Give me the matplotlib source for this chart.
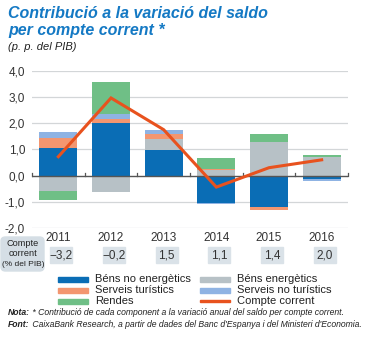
import numpy as np
import matplotlib
matplotlib.use("Agg")
import matplotlib.pyplot as plt
from matplotlib.patches import FancyBboxPatch, Rectangle
from matplotlib.text import Annotation

plt.rcParams['font.family'] = ['Liberation Sans', 'DejaVu Sans']

# Data
years = ['2011', '2012', '2013', '2014', '2015', '2016']
bens_no_energetics = [1.05, 2.0, 0.97, -1.05, -1.2, -0.14]
bens_energetics = [-0.57, -0.63, 0.42, 0.22, 1.28, 0.70]
serveis_turistics = [0.37, 0.15, 0.18, 0.02, -0.13, 0.0]
serveis_no_turistics = [0.23, 0.19, 0.18, -0.03, 0.0, -0.05]
rendes = [-0.37, 1.23, 0.0, 0.42, 0.31, 0.08]
compte_corrent = [0.72, 2.96, 1.75, -0.44, 0.30, 0.60]
saldo_labels = ['\u22123,2', '\u22120,2', '1,5', '1,1', '1,4', '2,0']

series = [
    ('Béns no energètics', bens_no_energetics, '#0a6db5'),
    ('Béns energètics', bens_energetics, '#b7c1c6'),
    ('Serveis turístics', serveis_turistics, '#f39670'),
    ('Serveis no turístics', serveis_no_turistics, '#8fb3e3'),
    ('Rendes', rendes, '#6fbf86'),
]
line_color = '#e8521e'
title_color = '#1479c4'

W, H = 368, 338
fig = plt.figure(figsize=(W / 100, H / 100), dpi=100)

# main axes: x 32..348 px, y 70.7 (4,0) .. 228 (-2,0)
ax = fig.add_axes([32 / W, (H - 228) / H, 316 / W, (228 - 70.7) / H])
x = np.arange(len(years))
pos_base = np.zeros(len(years))
neg_base = np.zeros(len(years))
for name, vals, col in series:
    vals = np.array(vals)
    pos = np.where(vals > 0, vals, 0)
    neg = np.where(vals < 0, vals, 0)
    ax.bar(x, pos, 0.72, bottom=pos_base, color=col, zorder=2, linewidth=0)
    ax.bar(x, neg, 0.72, bottom=neg_base, color=col, zorder=2, linewidth=0)
    pos_base += pos
    neg_base += neg

ax.plot(x, compte_corrent, color=line_color, lw=2.2, zorder=4, solid_joinstyle='miter')

ax.set_xlim(-0.5, len(years) - 0.5)
ax.set_ylim(-2, 4)
ax.set_yticks(np.arange(-2, 5, 1))
ax.set_yticklabels([f'{v:.1f}'.replace('.', ',') for v in np.arange(-2, 5, 1)],
                   fontsize=8.5, color='#333333')
for v in [-2, -1, 1, 2, 3, 4]:
    ax.axhline(v, color='#d3d6d8', lw=0.9, zorder=0)
ax.axhline(0, color='#555555', lw=1.0, zorder=3)
for b in np.arange(-0.5, len(years), 1):
    ax.plot([b, b], [0, 0.1], color='#555555', lw=0.9, zorder=3, clip_on=False)
ax.set_xticks(x)
ax.set_xticklabels(years, fontsize=8.5, color='#333333')
ax.tick_params(length=0, pad=3)
ax.tick_params(axis='y', pad=5)
for s in ax.spines.values():
    s.set_visible(False)

# current account row
for i, lab in enumerate(saldo_labels):
    cx = 32 + (i + 0.5) * 316 / len(years) + 3
    fig.patches.append(Rectangle(((cx - 11) / W, 1 - 263 / H), 22 / W, 16 / H,
                                 transform=fig.transFigure, color='#dae2e8', zorder=1))
    fig.text(cx / W, 1 - 255.5 / H, lab, ha='center', va='center', fontsize=8.5, color='#333333')

fig.patches.append(FancyBboxPatch((1 / W, 1 - 271 / H), 43 / W, 34 / H,
                                  boxstyle='round,pad=0,rounding_size=0.012',
                                  transform=fig.transFigure, color='#d5dee5', zorder=1))
fig.text(23 / W, 1 - 243 / H, 'Compte', ha='center', va='center', fontsize=6.6, color='#222222')
fig.text(23 / W, 1 - 254 / H, 'corrent', ha='center', va='center', fontsize=6.6, color='#222222')
fig.text(23 / W, 1 - 265 / H, '(% del PIB)', ha='center', va='center', fontsize=6.0, color='#222222')

# legend
legend_items = [
    (58, 279, '#0a6db5', 'Béns no energètics'),
    (58, 290, '#f39670', 'Serveis turístics'),
    (58, 301, '#6fbf86', 'Rendes'),
    (200, 279, '#b7c1c6', 'Béns energètics'),
    (200, 290, '#8fb3e3', 'Serveis no turístics'),
    (200, 301, line_color, 'Compte corrent'),
]
for lx, ly, col, txt in legend_items:
    h = 2.5 if col == line_color else 5
    fig.patches.append(Rectangle((lx / W, 1 - (ly + h / 2) / H), 30 / W, h / H,
                                 transform=fig.transFigure, color=col))
    fig.text((lx + 37) / W, 1 - ly / H, txt, ha='left', va='center', fontsize=8, color='#222222')

# titles
fig.text(8 / W, 1 - 13 / H, 'Contribució a la variació del saldo', fontsize=11.5,
         fontweight='bold', style='italic', color=title_color, va='center')
fig.text(8 / W, 1 - 30 / H, 'per compte corrent *', fontsize=11.5,
         fontweight='bold', style='italic', color=title_color, va='center')
fig.text(8 / W, 1 - 47 / H, '(p. p. del PIB)', fontsize=8, style='italic',
         color='#222222', va='center')

# notes: bold head followed by italic body
notes = [
    (315, 'Nota:', ' * Contribució de cada component a la variació anual del saldo per compte corrent.'),
    (327, 'Font:', " CaixaBank Research, a partir de dades del Banc d'Espanya i del Ministeri d'Economia."),
]
for ny, head, body in notes:
    t = fig.text(8 / W, 1 - ny / H, head, fontsize=6.2, style='italic', fontweight='bold',
                 color='#222222', va='baseline')
    fig.add_artist(Annotation(body, xy=(1, 0), xycoords=t, va='bottom', ha='left',
                              fontsize=6.2, style='italic', color='#222222'))

fig.savefig('out.png', dpi=100)
